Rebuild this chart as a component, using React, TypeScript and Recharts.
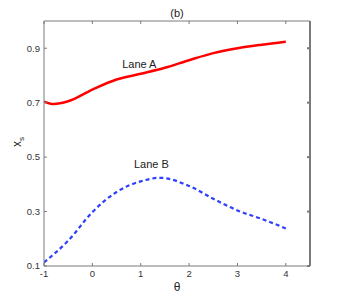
import React from 'react';
import { LineChart, Line, XAxis, YAxis, ReferenceDot } from 'recharts';

const thetaA = [-1, -0.8, -0.5, 0, 0.5, 1, 1.5, 2, 2.5, 3, 3.5, 4];
const laneA = [0.704, 0.695, 0.705, 0.748, 0.785, 0.806, 0.828, 0.856, 0.882, 0.9, 0.913, 0.924];
const thetaB = [-1, -0.5, 0, 0.5, 1, 1.4, 2, 2.5, 3, 3.5, 4];
const laneB = [0.113, 0.193, 0.298, 0.372, 0.411, 0.424, 0.394, 0.347, 0.304, 0.273, 0.238];
const xTicks = [-1, 0, 1, 2, 3, 4];
const yTicks = [0.1, 0.3, 0.5, 0.7, 0.9];

const dataA = thetaA.map((t, i) => ({ theta: t, a: laneA[i] }));
const dataB = thetaB.map((t, i) => ({ theta: t, b: laneB[i] }));

const axisColor = '#7a7a7a';
const font = 'Liberation Sans, Arial, sans-serif';
const tickStyle = { fill: '#333', fontSize: 9.5, fontFamily: font };

function YLabel() {
  return (
    <text
      transform="translate(21,142) rotate(-90)"
      textAnchor="middle"
      fontFamily={font}
      fontSize={12}
      fill="#222"
    >
      x
      <tspan fontSize={8} dy={3}>s</tspan>
    </text>
  );
}

export default function App() {
  return (
    <div>
      <style>{'body{margin:0}'}</style>
      <LineChart width={341} height={300} margin={{ top: 21, right: 31, bottom: 0, left: 0 }}>
        <text x={177} y={17} textAnchor="middle" fontFamily={font} fontSize={11} fill="#222">
          (b)
        </text>
        <XAxis
          xAxisId="bottom"
          type="number"
          dataKey="theta"
          domain={[-1, 4.5]}
          ticks={xTicks}
          allowDataOverflow
          height={34}
          stroke={axisColor}
          tickSize={-3}
          tickMargin={7}
          tick={tickStyle}
          label={{ value: 'θ', position: 'insideBottom', offset: 9, fontSize: 12, fill: '#222', fontFamily: font }}
        />
        <XAxis
          xAxisId="top"
          orientation="top"
          type="number"
          dataKey="theta"
          domain={[-1, 4.5]}
          ticks={xTicks}
          allowDataOverflow
          height={1}
          mirror
          stroke={axisColor}
          tickSize={3}
          tickFormatter={() => ''}
        />
        <YAxis
          yAxisId="left"
          type="number"
          domain={[0.1, 1.0]}
          ticks={yTicks}
          allowDataOverflow
          width={44}
          stroke={axisColor}
          tickSize={-3}
          tickMargin={7}
          tick={tickStyle}
          tickFormatter={(v: number) => v.toFixed(1)}
          label={<YLabel />}
        />
        <YAxis
          yAxisId="right"
          orientation="right"
          type="number"
          domain={[0.1, 1.0]}
          ticks={yTicks}
          allowDataOverflow
          width={1}
          mirror
          stroke={axisColor}
          strokeWidth={2}
          tickSize={3}
          tickFormatter={() => ''}
        />
        <Line
          xAxisId="bottom"
          yAxisId="left"
          data={dataA}
          dataKey="a"
          type="monotone"
          stroke="#ff0000"
          strokeWidth={2.5}
          dot={false}
          isAnimationActive={false}
        />
        <Line
          xAxisId="bottom"
          yAxisId="left"
          data={dataB}
          dataKey="b"
          type="monotone"
          stroke="#2f3fff"
          strokeWidth={2.2}
          strokeDasharray="4 3"
          dot={false}
          isAnimationActive={false}
        />
        <ReferenceDot
          xAxisId="bottom"
          yAxisId="left"
          x={0.97}
          y={0.843}
          r={0}
          fill="none"
          stroke="none"
          label={{ value: 'Lane A', position: 'center', fontSize: 11, fill: '#222', fontFamily: font }}
        />
        <ReferenceDot
          xAxisId="bottom"
          yAxisId="left"
          x={1.22}
          y={0.473}
          r={0}
          fill="none"
          stroke="none"
          label={{ value: 'Lane B', position: 'center', fontSize: 11, fill: '#222', fontFamily: font }}
        />
      </LineChart>
    </div>
  );
}
